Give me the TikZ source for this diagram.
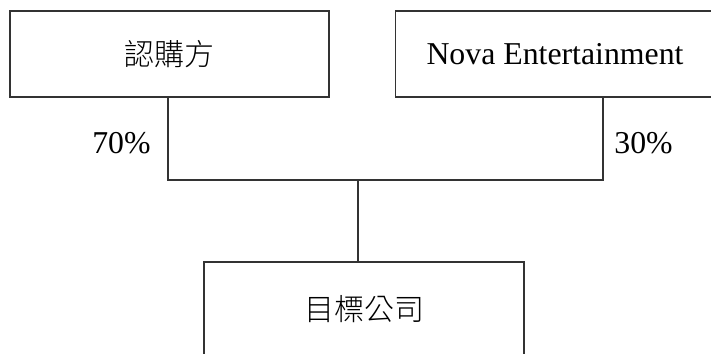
\documentclass[tikz,border=0pt]{standalone}
\usepackage{fontspec}
\setmainfont{Liberation Serif}
\newfontfamily\cjk{Noto Sans CJK TC Light}
\begin{document}
\begin{tikzpicture}[x=0.5pt,y=-0.5pt,
  box/.style={draw=black!80, line width=0.6pt, minimum width=159.5pt, inner sep=0pt},
  pct/.style={inner sep=0pt, font=\fontsize{15.9}{18}\selectfont},
  link/.style={draw=black!80, line width=0.6pt}]
\useasboundingbox (0,0) rectangle (711,353);
\clip (0,0) rectangle (711,353);
\node[box, minimum height=43pt, font=\cjk\fontsize{15}{18}\selectfont] (buyer) at (169.5,54) {認購方};
\node[box, minimum height=43pt, font=\fontsize{15.9}{18}\selectfont] (nova) at (555,54) {Nova Entertainment};
\node[box, minimum height=47pt, minimum width=160pt, font=\cjk\fontsize{15}{18}\selectfont] (target) at (364,309) {目標公司};

\coordinate (lfoot) at (168,180);
\coordinate (rfoot) at (603,180);
\coordinate (mid) at (358,180);

\path[link] (buyer.south -| lfoot) -- (lfoot) -- (rfoot) -- (nova.south -| rfoot);
\path[link] (mid) -- (target.north -| mid);

\node[pct, anchor=east] (p70) at (151,143) {70\%};
\node[pct, anchor=west] (p30) at (614,143) {30\%};
\end{tikzpicture}
\end{document}
